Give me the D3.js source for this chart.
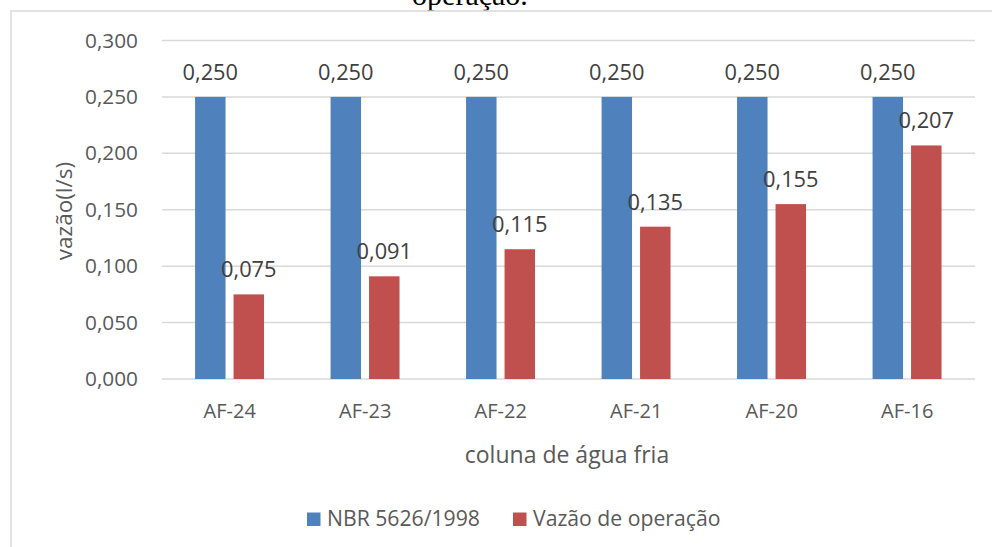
<!DOCTYPE html>
<html>
<head>
<meta charset="utf-8">
<script src="https://cdn.jsdelivr.net/npm/d3@7"></script>
<style>
  html, body { margin: 0; padding: 0; background: #fff; }
  svg { display: block; }
</style>
</head>
<body>
<svg id="chart" width="992" height="547"></svg>
<script>
// Flow rates per cold-water column (l/s)
const categories = ["AF-24", "AF-23", "AF-22", "AF-21", "AF-20", "AF-16"];
const seriesNames = ["NBR 5626/1998", "Vazão de operação"];
const normValues = [0.250, 0.250, 0.250, 0.250, 0.250, 0.250];
const operationValues = [0.075, 0.091, 0.115, 0.135, 0.155, 0.207];
const yTicks = [0, 0.05, 0.10, 0.15, 0.20, 0.25, 0.30];
const colors = ["#4F81BD", "#C0504D"];

const fmt = v => d3.format(".3f")(v).replace(".", ",");
const font = "'Open Sans', Lato, sans-serif";

const svg = d3.select("#chart");

// Caption line above the chart frame
svg.append("text")
  .attr("x", 470).attr("y", 5)
  .attr("text-anchor", "middle")
  .style("font-family", "'Liberation Serif', 'Times New Roman', serif")
  .style("font-size", "30px")
  .attr("fill", "#000")
  .text("operação.");

// Chart frame
svg.append("rect")
  .attr("x", 11).attr("y", 11)
  .attr("width", 1000).attr("height", 560)
  .attr("fill", "#fff")
  .attr("stroke", "#d9d9d9").attr("stroke-width", 1.5);

const plot = { left: 162, right: 975, top: 40.5, bottom: 379 };

const x0 = d3.scaleBand().domain(categories).range([plot.left, plot.right]);
const bw = x0.bandwidth();
const x1 = d3.scaleBand().domain(seriesNames)
  .range([bw * 0.244, bw * 0.753]).paddingInner(0.208);
const y = d3.scaleLinear().domain([0, 0.3]).range([plot.bottom, plot.top]);

// Horizontal gridlines
svg.append("g").selectAll("line").data(yTicks).join("line")
  .attr("x1", plot.left).attr("x2", plot.right)
  .attr("y1", d => y(d)).attr("y2", d => y(d))
  .attr("stroke", "#d9d9d9").attr("stroke-width", 1.5);

// Y axis tick labels
const yAxis = d3.axisLeft(y).tickValues(yTicks).tickFormat(fmt).tickSize(0).tickPadding(0);
const gy = svg.append("g").attr("transform", `translate(138,0)`).call(yAxis);
gy.select(".domain").remove();
gy.selectAll("text")
  .style("font-family", font).style("font-size", "20.8px")
  .attr("fill", "#595959");

// X axis category labels
const xAxis = d3.axisBottom(x0).tickSize(0).tickPadding(0);
const gx = svg.append("g").attr("transform", `translate(0,404)`).call(xAxis);
gx.select(".domain").remove();
gx.selectAll("text")
  .attr("dy", "0.71em")
  .style("font-family", font).style("font-size", "20px")
  .attr("fill", "#595959");

// Bars
const rows = categories.map((c, i) => ({
  cat: c,
  vals: [normValues[i], operationValues[i]]
}));

const groups = svg.append("g").selectAll("g").data(rows).join("g")
  .attr("transform", d => `translate(${x0(d.cat)},0)`);

groups.selectAll("rect")
  .data(d => d.vals.map((v, k) => ({ name: seriesNames[k], v, k })))
  .join("rect")
  .attr("x", d => x1(d.name))
  .attr("width", x1.bandwidth())
  .attr("y", d => y(d.v))
  .attr("height", d => y(0) - y(d.v))
  .attr("fill", d => colors[d.k]);

// Value labels above bars
groups.selectAll("text.val")
  .data(d => d.vals.map((v, k) => ({ name: seriesNames[k], v, k })))
  .join("text")
  .attr("class", "val")
  .attr("x", d => x1(d.name) + x1.bandwidth() / 2)
  .attr("y", d => y(d.v) - 17)
  .attr("text-anchor", "middle")
  .style("font-family", font).style("font-size", "21.8px")
  .attr("fill", "#404040")
  .text(d => fmt(d.v));

// Axis titles
svg.append("text")
  .attr("x", 567).attr("y", 463)
  .attr("text-anchor", "middle")
  .style("font-family", font).style("font-size", "23px")
  .attr("fill", "#595959")
  .text("coluna de água fria");

svg.append("text")
  .attr("transform", "translate(72,211) rotate(-90)")
  .attr("text-anchor", "middle")
  .style("font-family", font).style("font-size", "22.5px")
  .attr("fill", "#595959")
  .text("vazão(l/s)");

// Legend
const legend = svg.append("g");
const legendItems = [{ x: 307, name: seriesNames[0], c: colors[0] },
                     { x: 513, name: seriesNames[1], c: colors[1] }];
const li = legend.selectAll("g").data(legendItems).join("g")
  .attr("transform", d => `translate(${d.x},0)`);
li.append("rect")
  .attr("x", 0).attr("y", 512.5).attr("width", 13.5).attr("height", 13.5)
  .attr("fill", d => d.c);
li.append("text")
  .attr("x", 20).attr("y", 526)
  .style("font-family", font).style("font-size", "21.2px")
  .attr("fill", "#595959")
  .text(d => d.name);
</script>
</body>
</html>
